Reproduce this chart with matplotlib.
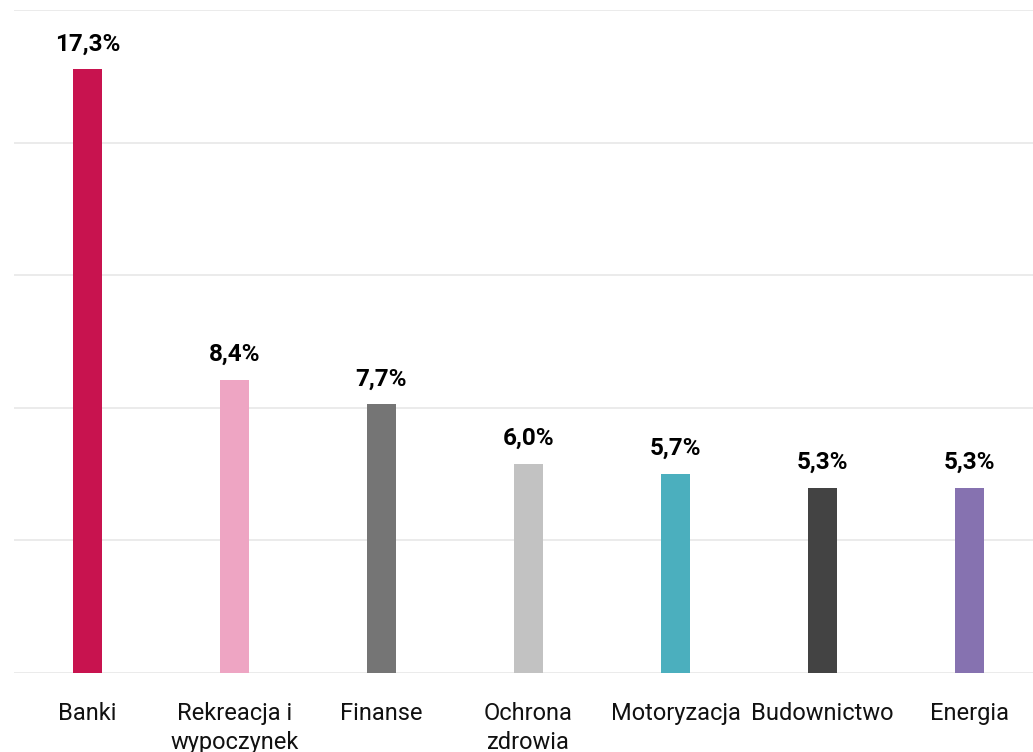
import matplotlib.pyplot as plt

plt.rcParams['font.family'] = ['Roboto', 'DejaVu Sans']

categories = ["Banki", "Rekreacja i\nwypoczynek", "Finanse", "Ochrona\nzdrowia",
              "Motoryzacja", "Budownictwo", "Energia"]
values = [17.3, 8.4, 7.7, 6.0, 5.7, 5.3, 5.3]
labels = ["17,3%", "8,4%", "7,7%", "6,0%", "5,7%", "5,3%", "5,3%"]
colors = ["#C8134F", "#EEA5C3", "#757575", "#C2C2C2", "#4BAFBE", "#434343", "#8672B0"]

fig = plt.figure(figsize=(10.33, 7.52), dpi=100)
ax = fig.add_axes([14 / 1033, 79 / 752, 1029 / 1033, 663 / 752])

x = list(range(len(categories)))
ax.bar(x, values, width=0.204, color=colors, zorder=2)

for xi, v, lab in zip(x, values, labels):
    ax.annotate(lab, (xi, v), xytext=(0, 10), textcoords="offset points",
                ha="center", va="bottom", fontsize=17.5, fontweight="bold", color="#000000")

ax.set_xlim(-0.5, 6.5)
ax.set_ylim(0, 19)
ax.set_yticks([0, 3.8, 7.6, 11.4, 15.2, 19])
ax.yaxis.grid(True, color="#E8E8E8", linewidth=1.2, zorder=0)
ax.set_yticklabels([])
ax.tick_params(axis="y", length=0)
ax.tick_params(axis="x", length=0, pad=21)
ax.set_xticks(x)
ax.set_xticklabels(categories, fontsize=17, color="#111111", linespacing=1.35, va="top")
for s in ax.spines.values():
    s.set_visible(False)

fig.savefig("out.png", dpi=100)
